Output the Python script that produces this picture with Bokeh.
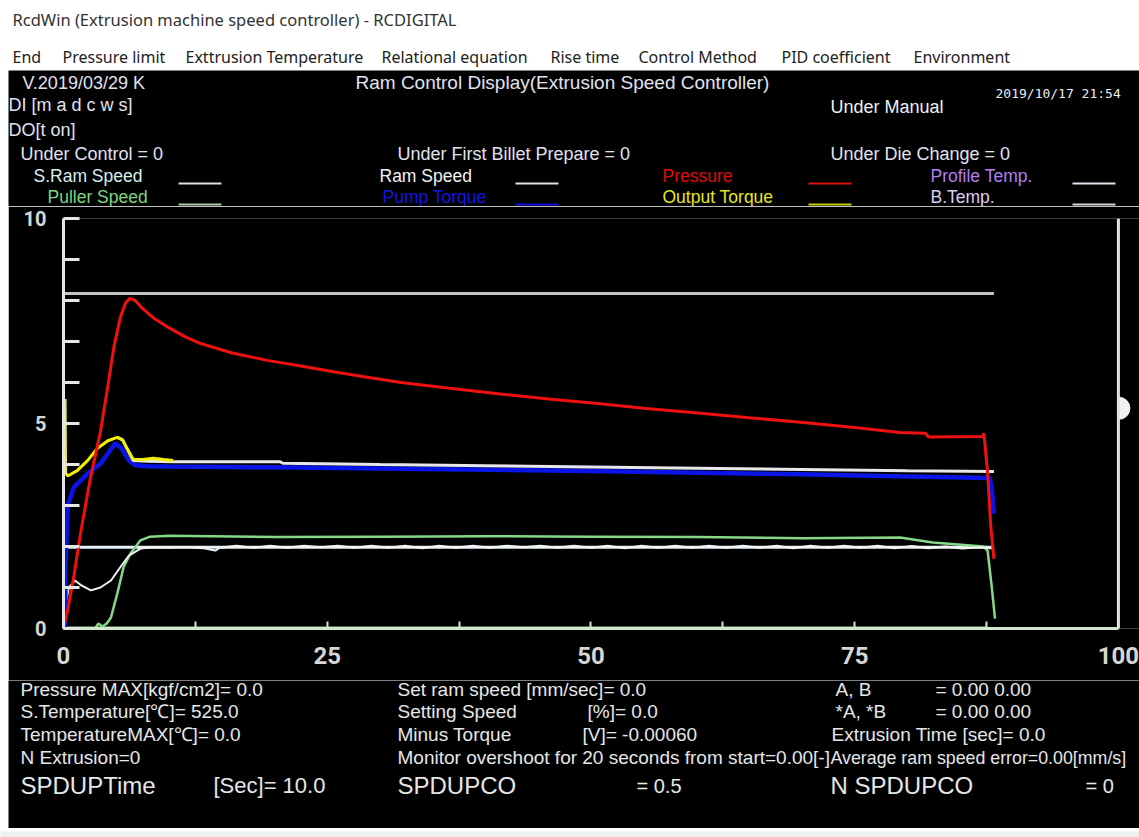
import math
from bokeh.plotting import figure
from bokeh.models import Range1d, LinearAxis, FixedTicker, Span, Spacer
from bokeh.layouts import column, row
from bokeh.embed import file_html
from bokeh.resources import INLINE
from bokeh.core.properties import value

# ---------------- data ----------------
time_ticks = [0, 25, 50, 75, 100]
time_minor = [12.5, 37.5, 62.5, 87.5]
value_ticks = [0, 5, 10]
value_minor = [1, 2, 3, 4, 6, 7, 8, 9]

pressure_x = [0.0, 0.4, 1.0, 1.6, 2.5, 3.5, 4.2, 4.8, 5.4, 5.9, 6.3, 6.8, 7.5, 8.5, 9.9, 11.5,
              13.0, 16.0, 19.3, 22.5, 25.6, 28.5, 32.0, 36.0, 41.4, 46.0, 50.9, 55.0, 60.4,
              65.0, 69.9, 75.0, 79.3, 81.7, 82.0, 87.1, 87.25, 87.6, 87.9, 88.2]
pressure_y = [0.0, 0.45, 1.3, 2.3, 3.6, 4.8, 5.9, 6.9, 7.6, 7.95, 8.05, 8.0, 7.8, 7.58, 7.35, 7.12,
              6.95, 6.72, 6.54, 6.4, 6.26, 6.14, 6.0, 5.88, 5.72, 5.6, 5.48, 5.37, 5.25,
              5.14, 5.03, 4.9, 4.78, 4.76, 4.67, 4.68, 4.76, 3.8, 2.5, 1.7]

pump_x = [0.15, 0.2, 0.4, 1.0, 2.3, 3.5, 4.3, 4.9, 5.5, 6.2, 6.8, 8.0, 10.0, 20.0, 30.0,
          40.0, 50.0, 60.0, 70.0, 80.0, 87.8, 88.0, 88.2]
pump_y = [0.0, 1.6, 3.0, 3.45, 3.78, 4.02, 4.3, 4.52, 4.4, 4.1, 3.98, 3.96, 3.95, 3.93, 3.9,
          3.87, 3.84, 3.8, 3.76, 3.71, 3.67, 3.4, 2.8]

output_x = [0.15, 0.2, 0.4, 1.3, 2.3, 3.2, 4.2, 5.1, 5.6, 6.0, 6.6, 7.5, 8.5, 9.5, 10.4]
output_y = [5.6, 3.8, 3.72, 3.85, 4.1, 4.39, 4.58, 4.66, 4.6, 4.4, 4.13, 4.12, 4.15, 4.12, 4.1]

profile_x = [5.1, 5.6, 6.0, 6.6, 8.0, 10.4, 15.0, 20.5, 20.8, 30.0, 40.0, 50.0, 60.0, 70.0, 80.0, 88.2]
profile_y = [4.66, 4.6, 4.4, 4.1, 4.08, 4.07, 4.07, 4.07, 4.03, 4.0, 3.97, 3.94, 3.91, 3.88, 3.85, 3.83]

btemp_x = [0.0, 88.2]
btemp_y = [8.17, 8.17]

sram_x = [0.0, 88.2]
sram_y = [1.98, 1.98]

puller_x = [0.0, 3.0, 3.3, 3.7, 4.1, 4.5, 5.1, 5.7, 6.35, 7.3, 8.2, 10.0, 14.0, 20.0, 30.0,
            40.0, 50.0, 60.0, 70.0, 79.3, 82.4, 87.2, 87.6, 88.0, 88.3]
puller_y = [0.0, 0.0, 0.12, 0.05, 0.12, 0.27, 0.85, 1.5, 1.83, 2.15, 2.24, 2.26, 2.25, 2.23, 2.24,
            2.25, 2.24, 2.23, 2.2, 2.22, 2.1, 2.0, 1.9, 1.0, 0.24]

puller_zero_x = [0.0, 87.6]
puller_zero_y = [0.0, 0.0]

ram_x = [0.1, 0.2, 0.5, 1.1, 1.7, 2.6, 3.5, 4.5, 5.4, 6.2, 7.3, 8.5, 10.0, 11.6, 13.2, 14.4,
         14.8, 16.4, 18.0, 19.6, 21.2, 22.8, 24.4, 26.0, 27.6, 29.2, 30.8, 32.4, 34.0, 35.6,
         37.2, 38.8, 40.4, 42.0, 43.6, 45.2, 46.8, 48.4, 50.0, 51.6, 53.2, 54.8, 56.4, 58.0,
         59.6, 61.2, 62.8, 64.4, 66.0, 67.6, 69.2, 70.8, 72.4, 74.0, 75.6, 77.2, 78.8, 80.4,
         82.0, 83.6, 85.2, 86.8, 88.2]
ram_y = [0.0, 0.6, 1.0, 1.17, 1.05, 0.93, 1.0, 1.17, 1.5, 1.78, 1.95, 1.98, 1.97, 1.99, 1.96, 1.9,
         1.97, 2.02, 1.97, 2.02, 1.97, 2.02, 1.98, 2.02, 1.97, 2.02, 1.97, 2.02, 1.96, 2.02,
         1.97, 2.02, 1.97, 2.02, 1.98, 2.02, 1.97, 2.02, 1.97, 2.02, 1.96, 2.02, 1.97, 2.02,
         1.97, 2.02, 1.97, 2.02, 1.97, 2.02, 1.96, 2.02, 1.97, 2.02, 1.97, 2.02, 1.96, 2.01,
         1.96, 2.0, 1.95, 1.98, 1.95]

menu_items = ["End", "Pressure limit", "Exttrusion Temperature", "Relational equation",
              "Rise time", "Control Method", "PID coefficient", "Environment"]
window_title = "RcdWin (Extrusion machine speed controller) - RCDIGITAL"

# ---------------- styles ----------------
UI_FONT = "Noto Sans"
PANEL_FONT = "Liberation Sans"
TICK_FONT = "Roboto"
PANEL_TXT = "#e2e2ee"
BT = "#e6e6e6"
SPLIT = 206  # window row where the status panel ends and the chart begins


def bare(fig):
    fig.grid.visible = False
    return fig


def put(fig, txt, px, py, size, color, font=PANEL_FONT):
    fig.text(x=[px], y=[py], text=[txt], text_font=value(font),
             text_font_size=f"{size}px", text_color=color,
             text_baseline="middle", text_align="left")


# ---------------- header (white title / menu bar) ----------------
hdr = bare(figure(width=1139, height=70, x_range=Range1d(0, 1139), y_range=Range1d(70, 0),
                  output_backend="svg", toolbar_location=None, x_axis_location=None,
                  y_axis_location=None, min_border=0, outline_line_color=None,
                  background_fill_color="white", border_fill_color="white"))
hdr.text(x=[12], y=[19], text=[window_title], text_font=value(UI_FONT),
         text_font_size="16.5px", text_color="#333333", text_baseline="middle")
menu_x = [12, 62, 185, 381, 550, 638, 781, 913]
hdr.text(x=menu_x, y=[56] * len(menu_x), text=menu_items, text_font=value(UI_FONT),
         text_font_size="16px", text_color="#222222", text_baseline="middle")

# ---------------- upper black panel (status + legend) ----------------
top = bare(figure(width=1131, height=SPLIT - 70, x_range=Range1d(8, 1139),
                  y_range=Range1d(SPLIT, 70),
                  output_backend="svg", toolbar_location=None, x_axis_location=None,
                  y_axis_location=None, min_border=0, outline_line_color=None,
                  background_fill_color="black", border_fill_color="black"))
put(top, "V.2019/03/29 K", 22, 82, 18, PANEL_TXT)
put(top, "Ram Control Display(Extrusion Speed Controller)", 355, 82, 19, PANEL_TXT)
put(top, "2019/10/17  21:54", 995, 93, 13, "#ececec", font="DejaVu Sans Mono")
put(top, "DI [m a d c w s]", 8, 104, 18, PANEL_TXT)
put(top, "Under Manual", 830, 106, 18, "#f0f0f0")
put(top, "DO[t on]", 8, 129, 18, PANEL_TXT)
put(top, "Under Control = 0", 20, 153, 18, PANEL_TXT)
put(top, "Under First Billet Prepare = 0", 397, 153, 18, PANEL_TXT)
put(top, "Under Die Change = 0", 830, 153, 18, PANEL_TXT)

legend_rows = [
    ("S.Ram Speed", 33, 175, "#d8eeee", 178, "#e0e0e0"),
    ("Ram Speed", 379, 175, "#f2f2f2", 515, "#e0e0e0"),
    ("Pressure", 662, 175, "#e00a0a", 808, "#e01010"),
    ("Profile Temp.", 930, 175, "#b47ef0", 1072, "#e4e4f0"),
    ("Puller Speed", 47, 196, "#7fd47f", 178, "#a8c8a8"),
    ("Pump Torque", 382, 196, "#1414e0", 515, "#1010e0"),
    ("Output Torque", 662, 196, "#e6e61e", 808, "#c8c810"),
    ("B.Temp.", 930, 196, "#dccdf0", 1072, "#d0d0d0"),
]
for name, tx, ty, tcol, lx, lcol in legend_rows:
    put(top, name, tx, ty, 17.5, tcol)
    top.segment(x0=[lx], y0=[ty + 8], x1=[lx + 43], y1=[ty + 8], line_color=lcol, line_width=2)

# ---------------- main chart ----------------
p = bare(figure(width=1131, height=680 - SPLIT, x_range=Range1d(0, 102.0), y_range=Range1d(0, 10),
                output_backend="svg", toolbar_location=None, x_axis_location=None,
                y_axis_location=None, min_border_left=55, min_border_right=0,
                min_border_top=218 - SPLIT, min_border_bottom=52, outline_line_color=None,
                background_fill_color="black", border_fill_color="black"))

yax = LinearAxis(ticker=FixedTicker(ticks=value_ticks, minor_ticks=value_minor),
                 axis_line_color="#e6e6e6", axis_line_width=3,
                 major_tick_in=16, major_tick_out=0, major_tick_line_color="#e6e6e6",
                 major_tick_line_width=3, minor_tick_in=16, minor_tick_out=0,
                 minor_tick_line_color="#e6e6e6", minor_tick_line_width=3,
                 major_label_text_color="#d6d6d6", major_label_text_font=TICK_FONT,
                 major_label_text_font_style="bold", major_label_text_font_size="20px",
                 major_label_standoff=17)
p.add_layout(yax, "left")

xax = LinearAxis(ticker=FixedTicker(ticks=time_ticks, minor_ticks=time_minor), bounds=(0, 100),
                 axis_line_color="#cfe8cf", axis_line_width=3,
                 major_tick_in=7, major_tick_out=0, major_tick_line_color="#cfe8cf",
                 major_tick_line_width=2, minor_tick_in=7, minor_tick_out=0,
                 minor_tick_line_color="#cfe8cf", minor_tick_line_width=2,
                 major_label_text_color="#d6d6d6", major_label_text_font=TICK_FONT,
                 major_label_text_font_style="bold", major_label_text_font_size="24px",
                 major_label_standoff=18)
p.add_layout(xax, "below")

p.add_layout(Span(location=100, dimension="height", line_color="#e2e2e2", line_width=3))
p.wedge(x=[100.05], y=[5.37], radius=11, radius_units="screen",
        start_angle=-math.pi / 2, end_angle=math.pi / 2, color="#f2f2f2")

p.line(puller_zero_x, puller_zero_y, line_color="#92e092", line_width=4)
p.line(btemp_x, btemp_y, line_color="#c4c4c4", line_width=3)
p.line(sram_x, sram_y, line_color="#e6f2fa", line_width=3)
p.line(puller_x, puller_y, line_color="#86d886", line_width=2.5)
p.line(ram_x, ram_y, line_color="#f4f4f4", line_width=2)
p.line(pump_x, pump_y, line_color="#0a14e6", line_width=4.5)
p.line(profile_x, profile_y, line_color="#e8e8ec", line_width=3)
p.line(output_x, output_y, line_color="#f2f000", line_width=3)
p.line(pressure_x, pressure_y, line_color="#f01010", line_width=3)

# ---------------- lower black panel (numbers) ----------------
foot = bare(figure(width=1131, height=148, x_range=Range1d(8, 1139), y_range=Range1d(828, 680),
                   output_backend="svg", toolbar_location=None, x_axis_location=None,
                   y_axis_location=None, min_border=0, outline_line_color=None,
                   background_fill_color="black", border_fill_color="black"))
FS = 19
put(foot, "Pressure MAX[kgf/cm2]= 0.0", 20, 689, FS, BT)
put(foot, "Set ram speed [mm/sec]= 0.0", 397, 689, FS, BT)
put(foot, "A,  B", 835, 689, FS, BT)
put(foot, "= 0.00 0.00", 935, 689, FS, BT)
put(foot, "S.Temperature[\u2103]= 525.0", 20, 711, FS, BT)
put(foot, "Setting Speed", 397, 711, FS, BT)
put(foot, "[%]= 0.0", 587, 711, FS, BT)
put(foot, "*A,  *B", 835, 711, FS, BT)
put(foot, "= 0.00 0.00", 935, 711, FS, BT)
put(foot, "TemperatureMAX[\u2103]= 0.0", 20, 734, FS, BT)
put(foot, "Minus Torque", 397, 734, FS, BT)
put(foot, "[V]= -0.00060", 582, 734, FS, BT)
put(foot, "Extrusion Time [sec]= 0.0", 831, 734, FS, BT)
put(foot, "N Extrusion=0", 20, 757, FS, BT)
put(foot, "Monitor overshoot  for 20 seconds from start=0.00[-]", 397, 757, FS, BT)
put(foot, "Average ram speed error=0.00[mm/s]", 830, 757, 17.8, BT)
put(foot, "SPDUPTime", 20, 785, 24, BT)
put(foot, "[Sec]= 10.0", 213, 785, 22, BT)
put(foot, "SPDUPCO", 397, 785, 24, BT)
put(foot, "= 0.5", 636, 785, 20, BT)
put(foot, "N SPDUPCO", 830, 785, 24, BT)
put(foot, "= 0", 1085, 785, 20, BT)

# ---------------- bottom light strip ----------------
strip = bare(figure(width=1139, height=9, x_range=Range1d(0, 1), y_range=Range1d(0, 1),
                    output_backend="svg", toolbar_location=None, x_axis_location=None,
                    y_axis_location=None, min_border=0, outline_line_color=None,
                    background_fill_color="#efefef", border_fill_color="#efefef"))

layout = column(hdr,
                row(Spacer(width=8, height=SPLIT - 70), top),
                row(Spacer(width=8, height=680 - SPLIT), p),
                row(Spacer(width=8, height=148), foot),
                strip)

open("out.html", "w").write(file_html(layout, INLINE))
